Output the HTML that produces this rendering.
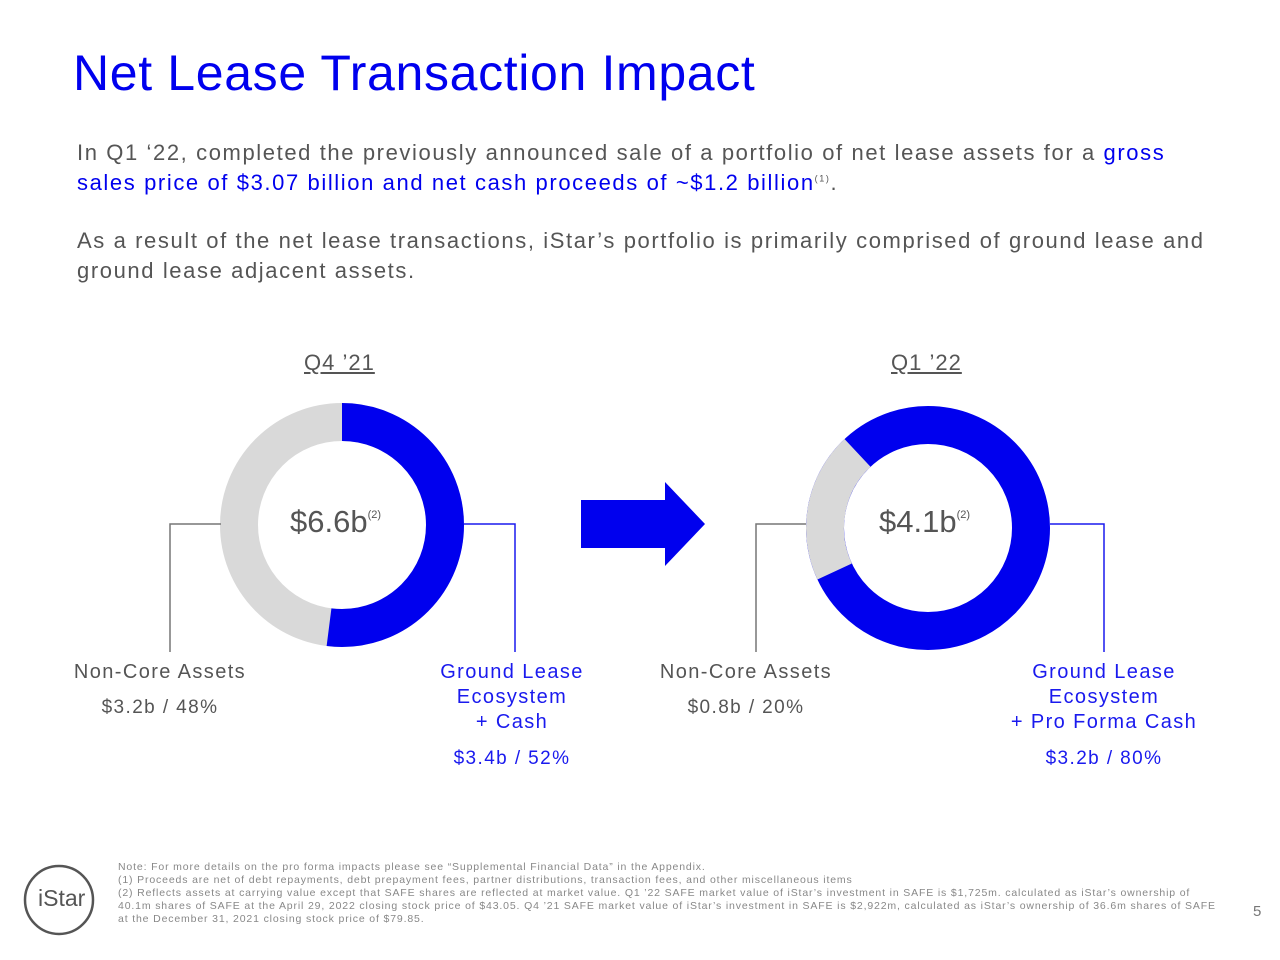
<!DOCTYPE html>
<html><head><meta charset="utf-8"><style>
body{margin:0;width:1280px;height:960px;background:#fff;position:relative;overflow:hidden;font-family:"Liberation Sans",sans-serif;}
.a{position:absolute;white-space:nowrap;}
h1{position:absolute;left:73px;top:44px;margin:0;font-weight:normal;font-size:50px;color:#0000ee;letter-spacing:0.65px;}
.p{position:absolute;left:77px;font-size:22px;color:#555;line-height:30px;letter-spacing:1.6px}
.b{color:#0000ee}
.lab{font-size:20px;color:#555;text-align:center;line-height:25px;letter-spacing:1.4px}
.blue{color:#1a1aee}
.foot{position:absolute;left:118px;top:861px;font-size:10.5px;color:#888;line-height:13px;letter-spacing:0.85px}
sup{line-height:0}
</style></head><body>
<h1>Net Lease Transaction Impact</h1>
<div class="p" style="top:138px">In Q1 ‘22, completed the previously announced sale of a portfolio of net lease assets for a <span class="b">gross<br>sales price of $3.07 billion and net cash proceeds of ~$1.2 billion</span><sup style="font-size:9px">(1)</sup>.</div>
<div class="p" style="top:226px">As a result of the net lease transactions, iStar’s portfolio is primarily comprised of ground lease and<br>ground lease adjacent assets.</div>
<div class="a" style="left:304px;top:350px;font-size:22px;color:#555;text-decoration:underline;letter-spacing:1px">Q4 ’21</div>
<div class="a" style="left:891px;top:350px;font-size:22px;color:#555;text-decoration:underline;letter-spacing:1px">Q1 ’22</div>
<svg class="a" style="left:0;top:0" width="1280" height="960">
<g fill="none" stroke-width="38">
<circle cx="342" cy="525" r="103" stroke="#d9d9d9"/>
<circle cx="342" cy="525" r="103" stroke="#0000ee" stroke-dasharray="336.5 1000" transform="rotate(-90 342 525)"/>
<circle cx="928" cy="528" r="103" stroke="#0000ee"/>
<circle cx="928" cy="528" r="103" stroke="#d9d9d9" stroke-dasharray="129 1000" transform="rotate(155 928 528)"/>
</g>
<polyline points="221,524 170,524 170,652" fill="none" stroke="#777" stroke-width="1.5"/>
<polyline points="464,524 515,524 515,652" fill="none" stroke="#1a1aee" stroke-width="1.5"/>
<polyline points="806,524 756,524 756,652" fill="none" stroke="#777" stroke-width="1.5"/>
<polyline points="1050,524 1104,524 1104,652" fill="none" stroke="#1a1aee" stroke-width="1.5"/>
<polygon points="581,500 665,500 665,482 705,524 665,566 665,548 581,548" fill="#0000ee"/>
<circle cx="59" cy="900" r="34" fill="none" stroke="#555" stroke-width="2.5"/>
</svg>
<div class="a" style="left:290px;top:504px;font-size:31px;color:#555">$6.6b<sup style="font-size:11px;vertical-align:14px">(2)</sup></div>
<div class="a" style="left:879px;top:504px;font-size:31px;color:#555">$4.1b<sup style="font-size:11px;vertical-align:14px">(2)</sup></div>
<div class="a lab" style="left:60px;top:660px;width:200px">Non-Core Assets</div>
<div class="a lab" style="left:60px;top:695px;width:200px;font-size:19px">$3.2b / 48%</div>
<div class="a lab blue" style="left:412px;top:660px;width:200px">Ground Lease<br>Ecosystem<br>+ Cash</div>
<div class="a lab blue" style="left:412px;top:746px;width:200px;font-size:19px">$3.4b / 52%</div>
<div class="a lab" style="left:646px;top:660px;width:200px">Non-Core Assets</div>
<div class="a lab" style="left:646px;top:695px;width:200px;font-size:19px">$0.8b / 20%</div>
<div class="a lab blue" style="left:984px;top:660px;width:240px">Ground Lease<br>Ecosystem<br>+ Pro Forma Cash</div>
<div class="a lab blue" style="left:984px;top:746px;width:240px;font-size:19px">$3.2b / 80%</div>
<div class="a" style="left:38px;top:885px;font-size:23px;color:#555">iStar</div>
<div class="foot">Note: For more details on the pro forma impacts please see “Supplemental Financial Data” in the Appendix.<br>(1) Proceeds are net of debt repayments, debt prepayment fees, partner distributions, transaction fees, and other miscellaneous items<br>(2) Reflects assets at carrying value except that SAFE shares are reflected at market value. Q1 ’22 SAFE market value of iStar’s investment in SAFE is $1,725m. calculated as iStar’s ownership of<br>40.1m shares of SAFE at the April 29, 2022 closing stock price of $43.05. Q4 ’21 SAFE market value of iStar’s investment in SAFE is $2,922m, calculated as iStar’s ownership of 36.6m shares of SAFE<br>at the December 31, 2021 closing stock price of $79.85.</div>
<div class="a" style="left:1253px;top:903px;font-size:15px;color:#777">5</div>
</body></html>
